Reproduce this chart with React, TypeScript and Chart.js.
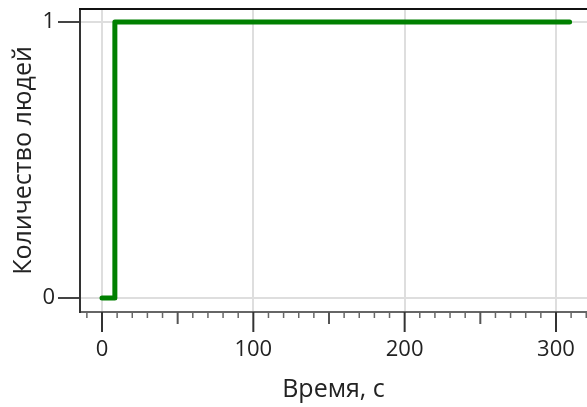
import React, { useEffect, useRef } from "react";
import { Chart, registerables } from "chart.js";

Chart.register(...registerables);

// Data
const times = [0, 8.5, 309];
const peopleCount = [0, 1, 1];
const xMajorTicks = [0, 100, 200, 300];
const yTicks = [0, 1];
const xTitle = "Время, с";
const yTitle = "Количество людей";

const FONT = "'Open Sans', 'Noto Sans', sans-serif";

const frameAndTicks = {
  id: "frameAndTicks",
  afterDraw(chart: any) {
    const ctx = chart.ctx;
    const area = chart.chartArea;
    const xs = chart.scales.x;
    ctx.save();
    // top frame line
    ctx.strokeStyle = "#111";
    ctx.lineWidth = 2;
    ctx.beginPath();
    ctx.moveTo(area.left - 1, area.top);
    ctx.lineTo(area.right, area.top);
    ctx.stroke();
    // x ticks (major, half and minor)
    for (let v = -100; v <= 1000; v += 10) {
      const px = xs.getPixelForValue(v);
      if (px < area.left + 2 || px > area.right) continue;
      let len = 6;
      let w = 1.5;
      let col = "#666";
      if (v % 100 === 0) {
        len = 20;
        w = 2;
        col = "#333";
      } else if (v % 50 === 0) {
        len = 12;
        w = 2;
        col = "#555";
      }
      ctx.strokeStyle = col;
      ctx.lineWidth = w;
      ctx.beginPath();
      ctx.moveTo(px, area.bottom);
      ctx.lineTo(px, area.bottom + len);
      ctx.stroke();
    }
    ctx.restore();
  },
};

export default function App() {
  const ref = useRef<HTMLCanvasElement>(null);
  useEffect(() => {
    if (!ref.current) return;
    const chart = new Chart(ref.current, {
      type: "line",
      data: {
        datasets: [
          {
            data: times.map((t, i) => ({ x: t, y: peopleCount[i] })),
            borderColor: "#008000",
            borderWidth: 5,
            stepped: "before",
            pointRadius: 0,
            fill: false,
            borderCapStyle: "round",
            borderJoinStyle: "round",
          },
        ],
      },
      options: {
        responsive: false,
        animation: false,
        layout: { padding: { top: 9, left: 0, right: 0, bottom: 0 } },
        plugins: { legend: { display: false }, tooltip: { enabled: false } },
        scales: {
          x: {
            type: "linear",
            min: -14.54,
            max: 320.5,
            afterBuildTicks: (s: any) => {
              s.ticks = xMajorTicks.map((v) => ({ value: v }));
            },
            afterFit: (s: any) => {
              s.height = 95;
              s.paddingLeft = 0;
              s.paddingRight = 0;
            },
            grid: { color: "#dedede", lineWidth: 2, drawTicks: false },
            border: { color: "#666", width: 2 },
            ticks: {
              font: { family: FONT, size: 22 },
              color: "#222",
              padding: 25,
              maxRotation: 0,
              autoSkip: false,
              callback: (v: any) => String(v),
            },
            title: {
              display: true,
              text: xTitle,
              font: { family: FONT, size: 25 },
              color: "#222",
              padding: { top: 0, bottom: 2 },
            },
          },
          y: {
            type: "linear",
            min: -0.0507,
            max: 1.047,
            afterBuildTicks: (s: any) => {
              s.ticks = yTicks.map((v) => ({ value: v }));
            },
            afterFit: (s: any) => {
              s.width = 80;
              s.paddingTop = 0;
              s.paddingBottom = 0;
            },
            grid: {
              color: "#dedede",
              lineWidth: 2,
              drawTicks: true,
              tickLength: 22,
              tickColor: "#444",
              tickWidth: 2,
            },
            border: { color: "#333", width: 2 },
            ticks: {
              font: { family: FONT, size: 22 },
              color: "#222",
              padding: 3,
              callback: (v: any) => String(v),
            },
            title: {
              display: true,
              text: yTitle,
              font: { family: FONT, size: 25 },
              color: "#222",
              padding: { top: 9, bottom: 0 },
            },
          },
        },
      },
      plugins: [frameAndTicks],
    } as any);
    return () => chart.destroy();
  }, []);
  return (
    <div style={{ position: "fixed", left: 0, top: 0, width: 587, height: 407, background: "#fff" }}>
      <canvas ref={ref} width={587} height={407} />
    </div>
  );
}
